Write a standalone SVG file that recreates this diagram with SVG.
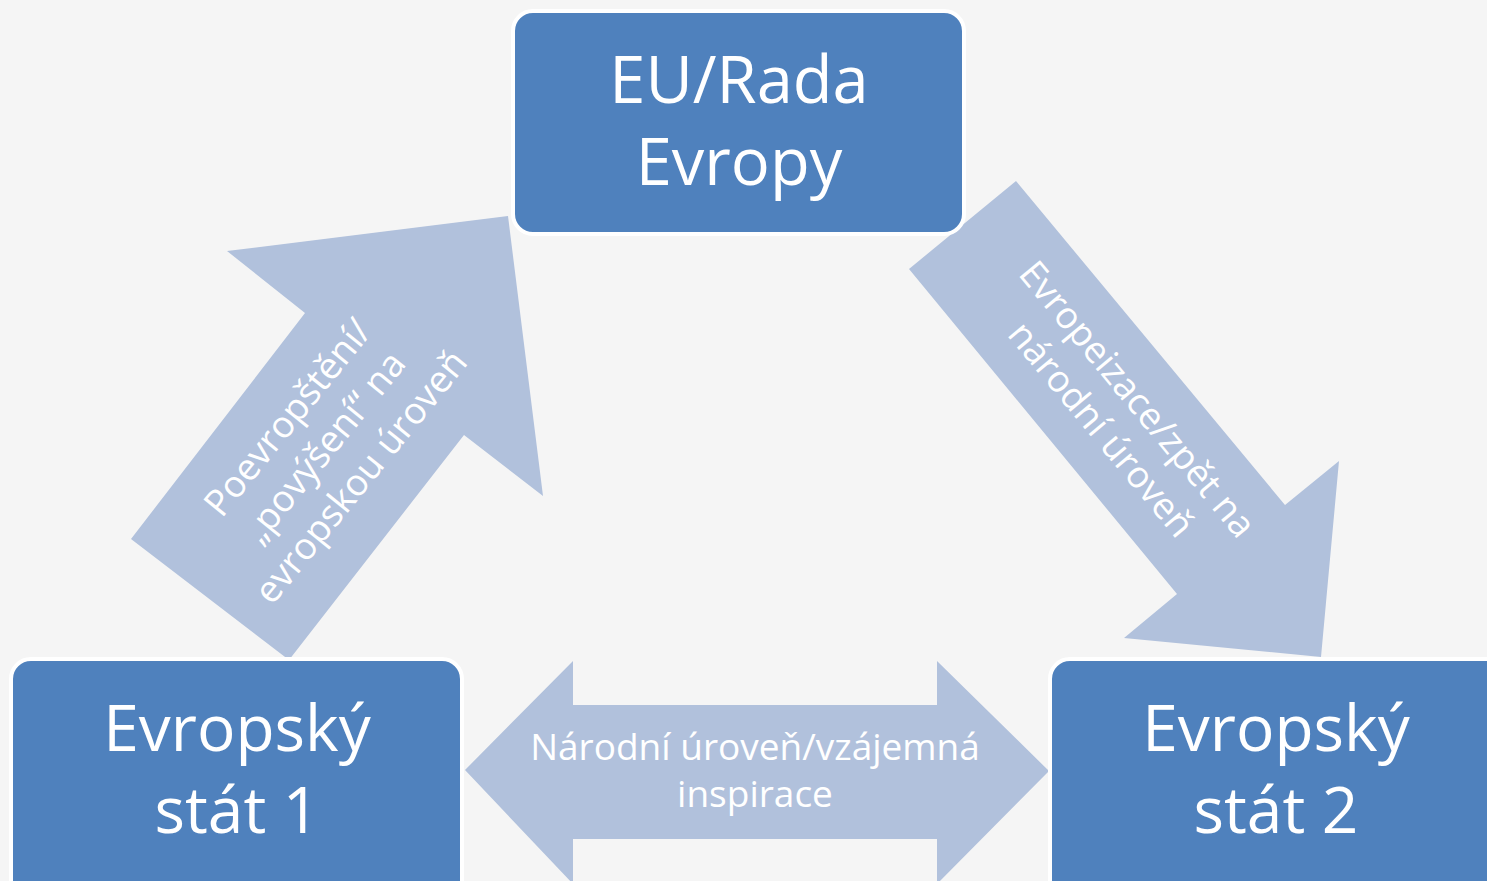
<svg xmlns="http://www.w3.org/2000/svg" width="1487" height="881" viewBox="0 0 1487 881">
<style>
.box{fill:#4F81BD;stroke:#FFFFFF;stroke-width:4}
.arr{fill:#B1C1DC}
.big{font-family:"Open Sans","Noto Sans",sans-serif;font-size:65px;fill:#FFFFFF;text-anchor:middle}
.st{font-size:64px}
.sm{font-family:"Open Sans","Noto Sans",sans-serif;font-size:37px;fill:#FFFFFF;text-anchor:middle}
</style>
<rect width="1487" height="881" fill="#F5F5F5"/>
<g id="connectors">
<g id="arrow-up">
<polygon class="arr" points="131,539 305,313 227,251 508,216 543,496 464,435 289,660"/>
<g transform="translate(334,455) rotate(-51)">
<text class="sm" x="0" y="-47">Poevropštění/</text>
<text class="sm" x="0" y="0">„povýšení“ na</text>
<text class="sm" x="0" y="47">evropskou úroveň</text>
</g>
</g>
<g id="arrow-down">
<polygon class="arr" points="1016,181 1285,505 1339,461 1321,657 1124,638 1177,594 909,269"/>
<g transform="translate(1110,422) rotate(50.3)">
<text class="sm" x="0" y="-23">Evropeizace/zpět na</text>
<text class="sm" x="0" y="24">národní úroveň</text>
</g>
</g>
<g id="arrow-both">
<polygon class="arr" points="465,770 573,661 573,705 937,705 937,661 1049,771 937,884 937,839 573,839 573,884"/>
<text class="sm" x="755" y="760">Národní úroveň/vzájemná</text>
<text class="sm" x="755" y="807">inspirace</text>
</g>
</g>
<g id="node-eu">
<rect class="box" x="513" y="11" width="451" height="223" rx="20"/>
<text class="big" x="739" y="103">EU/Rada</text>
<text class="big" x="739" y="185">Evropy</text>
</g>
<g id="node-stat1">
<rect class="box" x="11" y="659" width="451" height="260" rx="20"/>
<text class="big st" x="237" y="751">Evropský</text>
<text class="big st" x="237" y="833">stát 1</text>
</g>
<g id="node-stat2">
<rect class="box" x="1050" y="659" width="460" height="260" rx="20"/>
<text class="big st" x="1276" y="751">Evropský</text>
<text class="big st" x="1276" y="833">stát 2</text>
</g>
</svg>
